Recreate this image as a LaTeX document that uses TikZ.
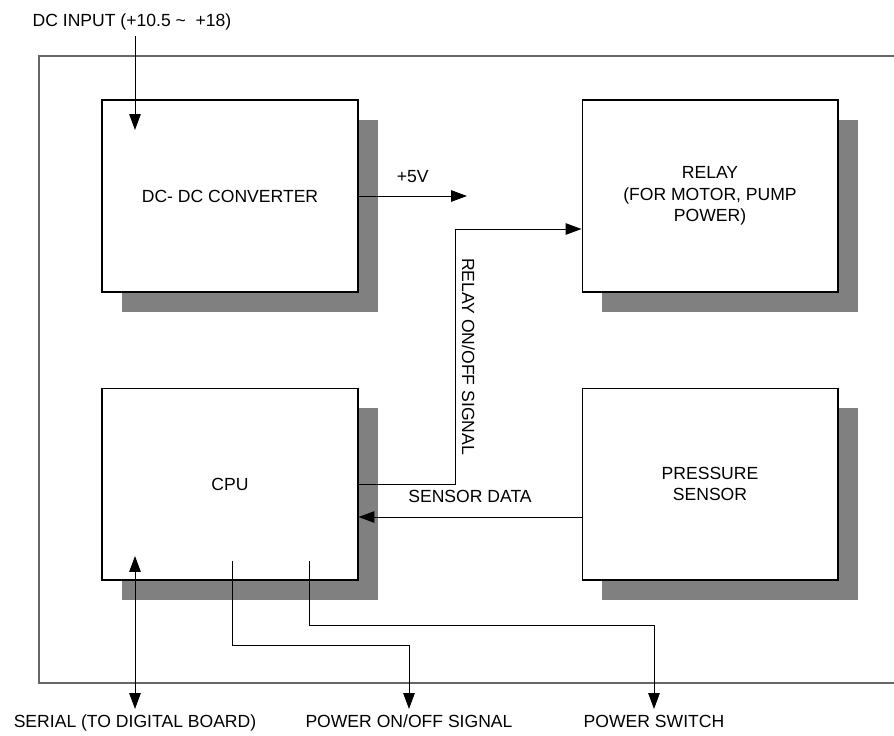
\documentclass[tikz,border=0pt]{standalone}
\usepackage{fontspec}
\setmainfont{Liberation Sans}
\usetikzlibrary{arrows.meta,shadows,calc}

\begin{document}
\begin{tikzpicture}[
    x=0.02cm, y=-0.02cm,
    box/.style={draw, fill=white, line width=0.6pt, minimum width=5.12cm, minimum height=3.84cm, align=center,
        drop shadow={shadow xshift=0.4cm, shadow yshift=-0.4cm, opacity=1, fill=black!50}},
    arrow/.style={-{Triangle[length=9pt, width=6.5pt]}, line width=0.55pt},
    dblarrow/.style={{Triangle[length=9pt, width=6.5pt]}-{Triangle[length=9pt, width=6.5pt]}, line width=0.55pt},
    frame/.style={draw=black!60, line width=0.8pt},
    every node/.style={font=\fontsize{10}{12.2}\selectfont}
]
\useasboundingbox (0,0) rectangle (894,735);

% Outer board
\draw[frame] (894,56) -| (39,683) -- (894,683);

% DC-DC converter
\node[box] (dcdc) at (230,196) {DC- DC CONVERTER};

% Relay
\node[box] (relay) at (710,196) {RELAY\\(FOR MOTOR, PUMP\\POWER)};

% CPU
\node[box] (cpu) at (230,484) {CPU};

% Pressure sensor
\node[box] (pres) at (710,484) {PRESSURE\\SENSOR};

% Outside connections
\node (dcin) at (132,22) {DC INPUT (+10.5 \textasciitilde\ \ +18)};
\node[anchor=north] (serial) at (135,709) {SERIAL (TO DIGITAL BOARD)};
\node[anchor=north] (pwrsig) at (409,709) {POWER ON/OFF SIGNAL};
\node[anchor=north] (pwrsw) at (654,709) {POWER SWITCH};

\coordinate (dcinend) at (135,130);
\coordinate (fivev) at (467,196);
\coordinate (cpuser) at (135,556);
\coordinate (cpupwr) at (232,561);
\coordinate (cpusw) at (309,561);

% Arrows
\draw[arrow] (dcin.south -| dcinend) -- (dcinend);
\draw[arrow] (dcdc.east) -- (fivev) node[midway, above=4pt] {+5V};
\draw[arrow] (cpu.east) -- ++(97,0) |- ($(relay.west)+(0,33)$)
    node[pos=0.25, anchor=south, rotate=-90] {RELAY ON/OFF SIGNAL};
\draw[arrow] ($(pres.west)+(0,33)$) -- ($(cpu.east)+(0,33)$) node[midway, above=4.5pt] {SENSOR DATA};
\draw[dblarrow] (cpuser) -- (serial.north);
\draw[arrow] (cpupwr) -- ++(0,84) -| (pwrsig.north);
\draw[arrow] (cpusw) -- ++(0,64) -| (pwrsw.north);

\end{tikzpicture}
\end{document}
